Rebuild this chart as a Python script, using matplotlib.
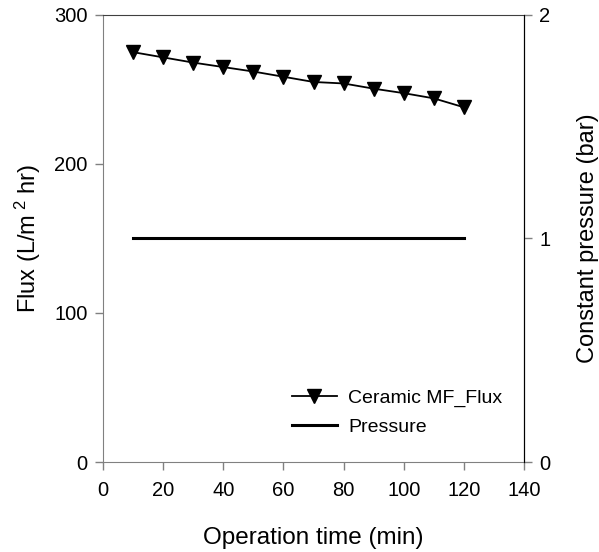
import numpy as np
import matplotlib
matplotlib.use('Agg')
import matplotlib.pyplot as plt

plt.rcParams['font.family'] = ['Liberation Sans', 'DejaVu Sans']
plt.rcParams['mathtext.fontset'] = 'custom'
plt.rcParams['mathtext.rm'] = 'Liberation Sans'
plt.rcParams['mathtext.it'] = 'Liberation Sans'

# data
time_min = [10, 20, 30, 40, 50, 60, 70, 80, 90, 100, 110, 120]
flux = [275, 271.5, 268, 265, 262, 258.5, 255, 254, 250.5, 247.5, 244, 238]
pressure_time = [10, 120]
pressure_bar = [1, 1]

fig = plt.figure(figsize=(5.99, 5.52), dpi=100)
ax = fig.add_axes([0.172, 0.163, 0.703, 0.810])
ax2 = ax.twinx()

p1, = ax.plot(time_min, flux, color='black', lw=1.3, marker='v', markersize=10,
              label='Ceramic MF_Flux')
p2, = ax2.plot(pressure_time, pressure_bar, color='black', lw=2.2, label='Pressure')

ax.set_xlim(0, 140)
ax.set_ylim(0, 300)
ax2.set_ylim(0, 2)
ax.set_xticks(np.arange(0, 141, 20))
ax.set_yticks([0, 100, 200, 300])
ax2.set_yticks([0, 1, 2])

gray = '#808080'
ax.spines['left'].set_color(gray)
ax.spines['bottom'].set_color(gray)
ax.spines['top'].set_color('#404040')
ax2.spines['left'].set_visible(False)
ax2.spines['bottom'].set_visible(False)
ax2.spines['top'].set_visible(False)
ax2.spines['right'].set_color('black')

ax.tick_params(direction='out', length=6, labelsize=14.5, width=1, color=gray, pad=5)
ax.tick_params(axis='x', pad=8)
ax2.tick_params(direction='out', length=6, labelsize=14.5, width=1, color=gray, pad=5)

ax.set_xlabel('Operation time (min)', fontsize=17.5, labelpad=19)
ax.set_ylabel(r'Flux (L/m$^{\ 2}$ hr)', fontsize=17, labelpad=8)
ax2.set_ylabel('Constant pressure (bar)', fontsize=17, labelpad=19)

ax.legend((p1, p2), ('Ceramic MF_Flux', 'Pressure'), loc='lower right',
          bbox_to_anchor=(0.99, 0.02), frameon=False, fontsize=14,
          handlelength=2.3, handletextpad=0.6, labelspacing=0.55)

fig.savefig('out.png', dpi=100)
